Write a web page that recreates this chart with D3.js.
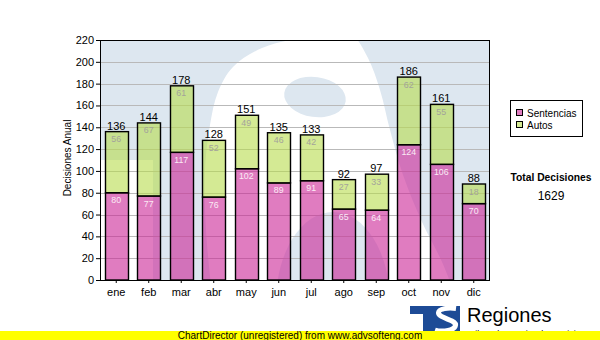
<!DOCTYPE html>
<html>
<head>
<meta charset="utf-8">
<script src="https://cdn.jsdelivr.net/npm/d3@7"></script>
<style>
  html, body { margin: 0; padding: 0; background: #fff; }
  svg { display: block; }
  text { font-family: "Liberation Sans", Arial, sans-serif; }
</style>
</head>
<body>
<div id="chart"></div>
<script>
// Monthly decisions, split into sentences and rulings
const months = ["ene", "feb", "mar", "abr", "may", "jun", "jul", "ago", "sep", "oct", "nov", "dic"];
const sentencias = [80, 77, 117, 76, 102, 89, 91, 65, 64, 124, 106, 70];
const autos = [56, 67, 61, 52, 49, 46, 42, 27, 33, 62, 55, 18];
const yTicks = [0, 20, 40, 60, 80, 100, 120, 140, 160, 180, 200, 220];
const seriesNames = ["Sentencias", "Autos"];

const W = 600, H = 340;
const plot = { left: 100, top: 40, right: 490, bottom: 280 };

const pinkFill = "rgba(203,37,150,0.6)";
const greenFill = "rgba(183,220,77,0.6)";

const svg = d3.select("#chart").append("svg")
  .attr("width", W).attr("height", H);

svg.append("rect").attr("width", W).attr("height", H).attr("fill", "#fff");

const x = d3.scaleBand()
  .domain(months)
  .range([plot.left, plot.right])
  .paddingInner(0.2923)
  .paddingOuter(0.146);

const y = d3.scaleLinear()
  .domain([0, 220])
  .range([plot.bottom, plot.top]);

// ---- background emblem inside the plot area ----
svg.append("clipPath").attr("id", "plotClip")
  .append("rect")
  .attr("x", plot.left).attr("y", plot.top)
  .attr("width", plot.right - plot.left).attr("height", plot.bottom - plot.top);

const bg = svg.append("g").attr("clip-path", "url(#plotClip)");
bg.append("rect")
  .attr("x", plot.left).attr("y", plot.top)
  .attr("width", plot.right - plot.left).attr("height", plot.bottom - plot.top)
  .attr("fill", "#dde7f0");

// white lower-left corner under the emblem's arm
bg.append("rect")
  .attr("x", plot.left).attr("y", 160)
  .attr("width", 53).attr("height", 130)
  .attr("fill", "#fff");

// large white "S" stroke of the emblem
const sOutline = [
  [212, 295], [206, 230], [205, 170], [210, 125], [218, 92], [233, 67], [262, 48], [300, 38], [340, 31],
  [352, 34], [368, 58], [380, 90], [390, 130], [403, 175], [422, 222], [442, 262], [455, 295]
];
bg.append("path")
  .attr("d", d3.line().curve(d3.curveCatmullRom)(sOutline) + "Z")
  .attr("fill", "#fff");

// counters of the S
bg.append("ellipse")
  .attr("cx", 315).attr("cy", 97).attr("rx", 31).attr("ry", 20)
  .attr("transform", "rotate(8,315,97)")
  .attr("fill", "#dde7f0");
bg.append("ellipse")
  .attr("cx", 333).attr("cy", 302).attr("rx", 57).attr("ry", 90)
  .attr("fill", "#dde7f0");

// ---- grid ----
svg.append("g")
  .selectAll("line")
  .data(yTicks.filter(d => d > 0 && d < 220))
  .join("line")
  .attr("x1", plot.left).attr("x2", plot.right)
  .attr("y1", d => Math.round(y(d)) + 0.5).attr("y2", d => Math.round(y(d)) + 0.5)
  .attr("stroke", "#b9b9b9").attr("stroke-width", 1);

// ---- stacked bars ----
const rows = months.map((m, i) => ({
  month: m,
  s: sentencias[i],
  a: autos[i],
  total: sentencias[i] + autos[i]
}));

const barX = d => Math.round(x(d.month)) + 0.5;
const bw = Math.round(x.bandwidth());

const bars = svg.append("g");
bars.selectAll("rect.sent")
  .data(rows)
  .join("rect")
  .attr("class", "sent")
  .attr("x", barX)
  .attr("y", d => y(d.s))
  .attr("width", bw)
  .attr("height", d => y(0) - y(d.s))
  .attr("fill", pinkFill)
  .attr("stroke", "#000").attr("stroke-width", 1.4);

bars.selectAll("rect.auto")
  .data(rows)
  .join("rect")
  .attr("class", "auto")
  .attr("x", barX)
  .attr("y", d => y(d.total))
  .attr("width", bw)
  .attr("height", d => y(d.s) - y(d.total))
  .attr("fill", greenFill)
  .attr("stroke", "#000").attr("stroke-width", 1.4);

// segment value labels
const cx = d => x(d.month) + x.bandwidth() / 2;
svg.append("g").selectAll("text")
  .data(rows)
  .join("text")
  .attr("x", cx)
  .attr("y", d => y(d.s) + 10.5)
  .attr("text-anchor", "middle")
  .attr("font-size", "8.8px")
  .attr("fill", "#fbeaf5")
  .text(d => d.s);

svg.append("g").selectAll("text")
  .data(rows)
  .join("text")
  .attr("x", cx)
  .attr("y", d => y(d.total) + 10.5)
  .attr("text-anchor", "middle")
  .attr("font-size", "8.8px")
  .attr("fill", "#a3a39b")
  .text(d => d.a);

// totals above the bars
svg.append("g").selectAll("text")
  .data(rows)
  .join("text")
  .attr("x", cx)
  .attr("y", d => y(d.total) - 2)
  .attr("text-anchor", "middle")
  .attr("font-size", "11px")
  .attr("fill", "#000")
  .text(d => d.total);

// ---- axes ----
const yAxis = svg.append("g")
  .attr("transform", `translate(${plot.left},0)`)
  .call(d3.axisLeft(y).tickValues(yTicks).tickSize(4).tickSizeOuter(0).tickPadding(2));
yAxis.selectAll("text").attr("font-size", "11px").attr("fill", "#000")
  .attr("font-family", "'Liberation Sans', Arial, sans-serif");
yAxis.selectAll("line").attr("stroke", "#000");
yAxis.select(".domain").remove();

const xAxis = svg.append("g")
  .attr("transform", `translate(0,${plot.bottom})`)
  .call(d3.axisBottom(x).tickSize(3).tickSizeOuter(0).tickPadding(5));
xAxis.selectAll("text").attr("font-size", "11px").attr("fill", "#000")
  .attr("font-family", "'Liberation Sans', Arial, sans-serif");
xAxis.selectAll("line").attr("stroke", "#000");
xAxis.select(".domain").remove();

// plot frame
svg.append("rect")
  .attr("x", plot.left + 0.5).attr("y", plot.top + 0.5)
  .attr("width", plot.right - plot.left - 1).attr("height", plot.bottom - plot.top)
  .attr("fill", "none").attr("stroke", "#000").attr("stroke-width", 1);

// axis title
svg.append("text")
  .attr("transform", "translate(71,158) rotate(-90)")
  .attr("text-anchor", "middle")
  .attr("font-size", "10px")
  .attr("fill", "#000")
  .text("Decisiones Anual");

// ---- legend ----
const legend = svg.append("g");
legend.append("rect")
  .attr("x", 510.5).attr("y", 100.5).attr("width", 72).attr("height", 36)
  .attr("fill", "#fff").attr("stroke", "#000");
const legendFills = [pinkFill, greenFill];
seriesNames.forEach((name, i) => {
  legend.append("rect")
    .attr("x", 516.5).attr("y", 109.5 + i * 12).attr("width", 6).attr("height", 6)
    .attr("fill", legendFills[i]).attr("stroke", "#000");
  legend.append("text")
    .attr("x", 527).attr("y", 117 + i * 12)
    .attr("font-size", "10px").attr("fill", "#000")
    .text(name);
});

// grand total
const grandTotal = d3.sum(rows, d => d.total);
svg.append("text")
  .attr("x", 551).attr("y", 180.5)
  .attr("text-anchor", "middle")
  .attr("font-size", "10.3px").attr("font-weight", "bold").attr("fill", "#000")
  .text("Total Decisiones");
svg.append("text")
  .attr("x", 551).attr("y", 200)
  .attr("text-anchor", "middle")
  .attr("font-size", "12px").attr("fill", "#000")
  .text(grandTotal);

// ---- emblem and caption at the bottom ----
const logo = svg.append("g");
logo.append("path")
  .attr("d", "M410,306 H460 V340 H423 V314 H410 Z")
  .attr("fill", "#1d4b96");
logo.append("path")
  .attr("d", "M456,308.5 C448,307.5 439,308.5 438.5,312.5 C438,316.5 447,318.5 452,321 C458,324 456,329 448,330.5 C443,331.5 438,331 435,330")
  .attr("fill", "none").attr("stroke", "#fff").attr("stroke-width", 5);
svg.append("text")
  .attr("x", 467).attr("y", 322)
  .attr("font-size", "20px").attr("fill", "#000")
  .text("Regiones");
svg.append("text")
  .attr("x", 467).attr("y", 337)
  .attr("font-size", "9px").attr("fill", "#000")
  .text("Tribunal Superior de Justicia");

// footer strip
svg.append("rect")
  .attr("x", 0).attr("y", 331).attr("width", W).attr("height", 9)
  .attr("fill", "#ffff00");
svg.append("text")
  .attr("x", 300).attr("y", 338.5)
  .attr("text-anchor", "middle")
  .attr("font-size", "10px").attr("fill", "#000")
  .text("ChartDirector (unregistered) from www.advsofteng.com");
</script>
</body>
</html>
